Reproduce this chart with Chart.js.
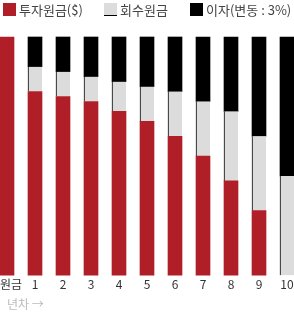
<!DOCTYPE html>
<html>
<head>
<meta charset="utf-8">
<script src="https://cdn.jsdelivr.net/npm/chart.js@4/dist/chart.umd.min.js"></script>
<style>
  html, body { margin: 0; padding: 0; background: #fff; }
  #wrap { width: 294px; height: 312px; position: relative; }
  #legend { position: absolute; left: 0; top: 0; width: 294px; height: 20px;
            font: 13px 'Noto Sans CJK KR', 'Noto Sans', sans-serif; color: #444; }
  #legend .sw { position: absolute; top: 3px; width: 13px; height: 13px; box-sizing: border-box; }
  #legend .tx { position: absolute; top: 0; line-height: 20px; white-space: nowrap; }
</style>
</head>
<body>
<div id="wrap">
  <div id="legend"></div>
  <canvas id="chart"></canvas>
</div>
<script>
const FONT = "'Noto Sans CJK KR', 'Noto Sans', sans-serif";

// 데이터 (그림에서 읽은 값, 각 막대 합계 240)
const years = ['원금', '1', '2', '3', '4', '5', '6', '7', '8', '9', '10'];
const principal = [240, 185, 180, 175, 165, 155, 140, 120, 95, 65, 0];
const recovered = [0, 25, 25, 25, 30, 35, 45, 55, 70, 75, 100];
const interest = [0, 30, 35, 40, 45, 50, 55, 65, 75, 100, 140];
const seriesNames = ['투자원금($)', '회수원금', '이자(변동 : 3%)'];
const seriesColors = ['#b01f27', '#dcdcdc', '#000000'];

// 범례 (HTML)
const legendX = [3, 104, 190];
const legendEl = document.getElementById('legend');
seriesNames.forEach((name, i) => {
    const sw = document.createElement('div');
    sw.className = 'sw';
    sw.style.left = legendX[i] + 'px';
    sw.style.background = seriesColors[i];
    if (i === 1) sw.style.borderBottom = '1px solid #000';
    const tx = document.createElement('div');
    tx.className = 'tx';
    tx.style.left = (legendX[i] + 16) + 'px';
    tx.textContent = name;
    legendEl.appendChild(sw);
    legendEl.appendChild(tx);
});

// 0 값은 그리지 않음 (null)
const bar = (i, data) => ({
    label: seriesNames[i],
    data: data.map(v => v || null),
    backgroundColor: seriesColors[i],
    borderWidth: 0,
    barThickness: 14,
    clip: false
});

const recoveredSet = bar(1, recovered);
recoveredSet.borderColor = '#000';
recoveredSet.borderWidth = { left: 1, top: 0, right: 0, bottom: 0 };
recoveredSet.borderSkipped = false;

// 첫 라벨 '원금'은 왼쪽 정렬
const firstLabelLeft = {
    id: 'firstLabelLeft',
    beforeDraw(chart) {
        const items = chart.scales.x.getLabelItems();
        if (items.length) {
            items[0].options.textAlign = 'left';
            items[0].options.translation = [0, items[0].options.translation[1]];
        }
    }
};

new Chart(document.getElementById('chart'), {
    type: 'bar',
    data: {
        labels: years,
        datasets: [bar(0, principal), recoveredSet, bar(2, interest)]
    },
    options: {
        responsive: true,
        maintainAspectRatio: false,
        animation: false,
        layout: { padding: { left: 7, right: 7, top: 37, bottom: 0 } },
        plugins: {
            tooltip: { enabled: false },
            legend: { display: false }
        },
        scales: {
            x: {
                stacked: true,
                offset: false,
                grid: { display: false, drawTicks: false },
                border: { display: false },
                ticks: {
                    color: '#333',
                    font: { family: FONT, size: 12 },
                    padding: 2,
                    maxRotation: 0,
                    autoSkip: false
                },
                title: {
                    display: true,
                    text: '년차 →',
                    align: 'start',
                    color: '#bbb',
                    font: { family: FONT, size: 12 },
                    padding: { top: 4, bottom: 0 }
                },
                afterFit: s => { s.paddingLeft = 0; s.paddingRight = 0; }
            },
            y: {
                stacked: true,
                display: false,
                min: 0,
                max: 240
            }
        }
    },
    plugins: [firstLabelLeft]
});
</script>
</body>
</html>
